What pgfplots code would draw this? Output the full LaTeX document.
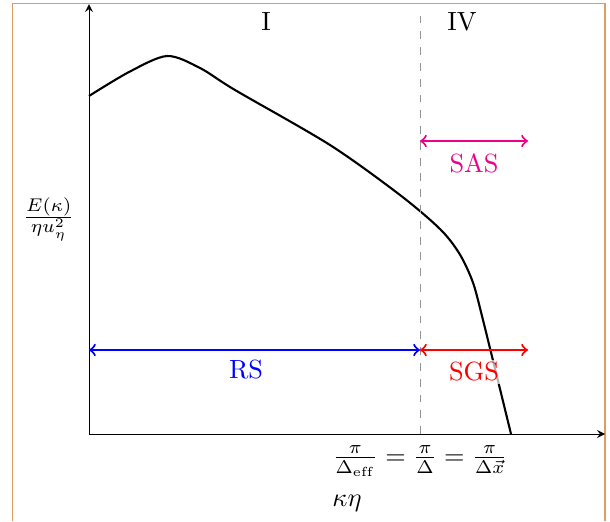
\documentclass[border=0pt]{standalone}
\usepackage{pgfplots}
\pgfplotsset{compat=1.18}
\definecolor{frameorange}{RGB}{222,158,96}

\begin{document}
\begin{tikzpicture}
% page area and the open frame around the sketch
\path[use as bounding box] (-33.82pt,-33.06pt) rectangle (197.98pt,164.92pt);
\draw[frameorange, line width=0.5pt]
  (-29.07pt,-33.06pt) -- (-29.07pt,163.59pt) -- (196.08pt,163.59pt) -- (196.08pt,-33.06pt);
\begin{axis}[
  at={(0,0)}, anchor=south west,
  scale only axis, width=196.08pt, height=163.4pt,
  xmin=0, xmax=516, ymin=0, ymax=430,
  axis lines=left,
  axis line style={line width=0.35pt},
  clip=false,
  xtick={331},
  xticklabels={$\frac{\pi}{\Delta_{\mathrm{eff}}} = \frac{\pi}{\Delta} = \frac{\pi}{\Delta\vec{x}}$},
  xticklabel style={yshift=-1pt},
  ytick=\empty,
  major tick length=0pt,
  xlabel={$\kappa\eta$},
  ylabel={$\frac{E(\kappa)}{\eta u_\eta^2}$},
  every axis x label/.style={at={(axis description cs:0.5,0)}, anchor=center, yshift=-26.2pt},
  every axis y label/.style={at={(axis description cs:0,0.5)}, anchor=center, xshift=-15.3pt},
]
% energy spectrum
\addplot[thick, smooth, tension=0.5, black] coordinates {
  (0,338) (40,362) (78,378) (111,366) (146,344)
  (241,289) (311,239) (351,205) (370,181) (383,154)
  (392,122) (422,0)
};
% filter cutoff
\addplot[gray!85, dashed, line width=0.35pt] coordinates {(331,0) (331,424)};
% resolved and modelled ranges
\addplot[thick, blue, <->] coordinates {(0,84) (331,84)};
\addplot[thick, red, <->] coordinates {(331,84) (439,84)};
\addplot[thick, magenta, <->] coordinates {(331,293) (439,293)};
\node at (axis cs:177,412) {I};
\node at (axis cs:373,412) {IV};
\node[text=magenta] at (axis cs:385,271) {SAS};
\node[text=red, fill=white, fill opacity=0.7, text opacity=1, inner sep=1pt] at (axis cs:385,62) {SGS};
\node[text=blue] at (axis cs:157,64) {RS};
\end{axis}
\end{tikzpicture}
\end{document}
